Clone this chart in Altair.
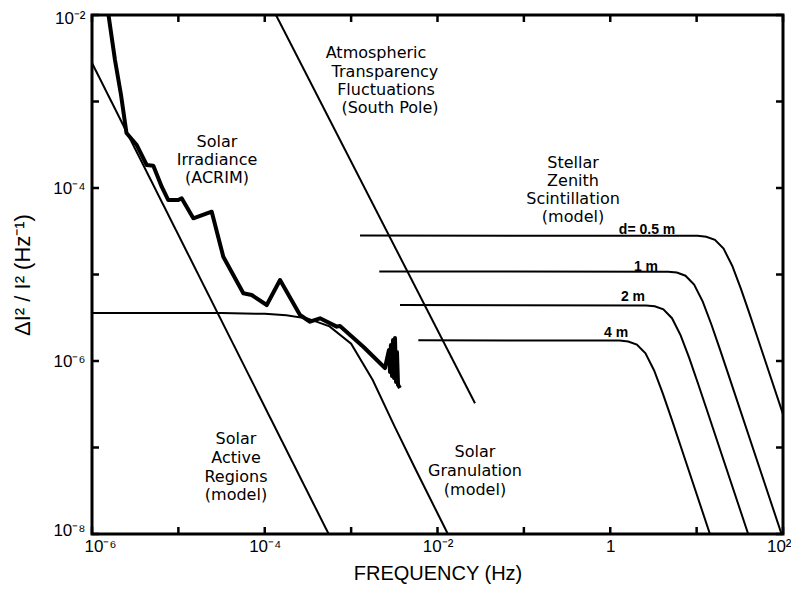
import altair as alt
import pandas as pd

# ---------------- data (log10 of frequency in Hz, log10 of ΔI²/I² in Hz^-1)
acrim_logf = [-5.809, -5.734, -5.664, -5.601, -5.482, -5.444, -5.367, -5.290, -5.193, -5.117,
              -5.001, -4.962, -4.827, -4.614, -4.480, -4.248, -4.151, -3.977, -3.823, -3.592,
              -3.476, -3.360, -3.167, -3.129, -2.859, -2.608, -2.562, -2.550, -2.539, -2.527,
              -2.515, -2.504, -2.492, -2.480, -2.469, -2.457, -2.434]
acrim_logp = [-2.000, -2.520, -2.925, -3.364, -3.503, -3.580, -3.734, -3.742, -3.985, -4.139,
              -4.139, -4.119, -4.350, -4.274, -4.794, -5.217, -5.237, -5.353, -5.064, -5.468,
              -5.546, -5.506, -5.603, -5.595, -5.835, -6.081, -5.873, -6.127, -5.815, -6.173,
              -5.757, -6.196, -5.734, -6.243, -5.896, -6.277, -6.312]

active_logf = [-6.0, -3.26]
active_logp = [-2.555, -8.0]

atmos_logf = [-3.870, -1.566]
atmos_logp = [-2.0, -6.489]

gran_logf = [-6.0, -4.5, -4.0, -3.75, -3.5, -3.25, -3.0, -2.75, -2.5, -2.25, -2.0, -1.88]
gran_logp = [-5.445, -5.445, -5.455, -5.47, -5.51, -5.60, -5.80, -6.22, -6.75, -7.26, -7.76, -8.0]

scint_05_logf = [-2.897, 1.012, 1.112, 1.212, 1.312, 1.412, 1.512, 1.612, 1.712, 2.0]
scint_05_logp = [-4.55, -4.553, -4.563, -4.599, -4.701, -4.899, -5.163, -5.453, -5.751, -6.615]
scint_1_logf = [-2.674, 0.671, 0.771, 0.871, 0.971, 1.071, 1.171, 1.271, 1.371, 1.983]
scint_1_logp = [-4.965, -4.968, -4.978, -5.014, -5.116, -5.314, -5.578, -5.868, -6.166, -8.0]
scint_2_logf = [-2.434, 0.415, 0.515, 0.615, 0.715, 0.815, 0.915, 1.015, 1.115, 1.597]
scint_2_logp = [-5.354, -5.357, -5.367, -5.403, -5.505, -5.703, -5.967, -6.257, -6.555, -8.0]
scint_4_logf = [-2.222, 0.108, 0.208, 0.308, 0.408, 0.508, 0.608, 0.708, 0.808, 1.154]
scint_4_logp = [-5.761, -5.764, -5.774, -5.81, -5.912, -6.11, -6.374, -6.664, -6.962, -8.0]

x_decades = [-6, -5, -4, -3, -2, -1, 0, 1, 2]
y_decades = [-8, -7, -6, -5, -4, -3, -2]
x_tick_exps = [-6, -4, -2, 0, 2]
x_tick_labels = ["10⁻⁶", "10⁻⁴", "10⁻²", "1", "10²"]
y_tick_exps = [-8, -6, -4, -2]
y_tick_labels = ["10⁻⁸", "10⁻⁶", "10⁻⁴", "10⁻²"]

# annotation text lines and their anchor (log10 f, log10 P)
annot_text = ["Atmospheric", "Transparency", "Fluctuations", "(South Pole)",
              "Solar", "Irradiance", "(ACRIM)",
              "Stellar", "Zenith", "Scintillation", "(model)",
              "Solar", "Active", "Regions", "(model)",
              "Solar", "Granulation", "(model)"]
annot_logf = [-2.712, -2.608, -2.596, -2.550,
              -4.553, -4.553, -4.553,
              -0.431, -0.431, -0.431, -0.431,
              -4.333, -4.333, -4.333, -4.333,
              -1.566, -1.566, -1.566]
annot_logp = [-2.439, -2.659, -2.867, -3.075,
              -3.468, -3.676, -3.884,
              -3.711, -3.919, -4.127, -4.335,
              -6.902, -7.121, -7.341, -7.549,
              -7.052, -7.272, -7.491]

d_text = ["d= 0.5 m", "1 m", "2 m", "4 m"]
d_logf = [0.426, 0.414, 0.263, 0.067]
d_logp = [-4.486, -4.913, -5.260, -5.676]

# ---------------- tables
def series(name, lf, lp):
    return pd.DataFrame({"series": name, "order": range(len(lf)),
                         "f": [10.0 ** v for v in lf], "P": [10.0 ** v for v in lp]})

thin = pd.concat([
    series("active", active_logf, active_logp),
    series("atmos", atmos_logf, atmos_logp),
    series("gran", gran_logf, gran_logp),
    series("d05", scint_05_logf, scint_05_logp),
    series("d1", scint_1_logf, scint_1_logp),
    series("d2", scint_2_logf, scint_2_logp),
    series("d4", scint_4_logf, scint_4_logp),
], ignore_index=True)
acrim = series("acrim", acrim_logf, acrim_logp)

annots = pd.DataFrame({"label": annot_text, "f": [10.0 ** v for v in annot_logf],
                       "P": [10.0 ** v for v in annot_logp]})
dlabels = pd.DataFrame({"label": d_text, "f": [10.0 ** v for v in d_logf],
                        "P": [10.0 ** v for v in d_logp]})
xticks = pd.DataFrame({"f": [10.0 ** v for v in x_decades]})
yticks = pd.DataFrame({"P": [10.0 ** v for v in y_decades]})


def label_expr(exps, labels):
    e = "round(log(datum.value)/LN10)"
    s = "''"
    for k, lab in reversed(list(zip(exps, labels))):
        s = f"({e} == {k}) ? '{lab}' : {s}"
    return s


W, H = 691, 519
TICK = 7
xs = alt.Scale(type="log", domain=[1e-6, 1e2], nice=False)
ys = alt.Scale(type="log", domain=[1e-8, 1e-2], nice=False)

xaxis = alt.Axis(values=[10.0 ** v for v in x_decades], labelExpr=label_expr(x_tick_exps, x_tick_labels),
                 domain=False, ticks=False, grid=False, labelFont="Liberation Sans", labelFontSize=17,
                 labelColor="black", labelPadding=4, labelFlush=True, labelFlushOffset=8,
                 labelOverlap=False,
                 title="FREQUENCY (Hz)", titleFont="Liberation Sans", titleFontSize=20,
                 titleFontWeight="normal", titleColor="black", titlePadding=9)
yaxis = alt.Axis(values=[10.0 ** v for v in y_decades], labelExpr=label_expr(y_tick_exps, y_tick_labels),
                 domain=False, ticks=False, grid=False, labelFont="Liberation Sans", labelFontSize=17,
                 labelColor="black", labelPadding=7, labelFlush=True, labelFlushOffset=5,
                 labelOverlap=False,
                 title="ΔI² / I²  (Hz⁻¹)", titleFont="Liberation Sans", titleFontSize=22,
                 titleFontWeight="normal", titleColor="black", titlePadding=18)

X = alt.X("f:Q", scale=xs, axis=xaxis)
Y = alt.Y("P:Q", scale=ys, axis=yaxis)

thin_layer = alt.Chart(thin).mark_line(color="black", strokeWidth=2, clip=True).encode(
    x=X, y=Y, detail="series:N", order="order:Q")
acrim_layer = alt.Chart(acrim).mark_line(color="black", strokeWidth=4, strokeJoin="round", clip=True).encode(
    x=X, y=Y, order="order:Q")
annot_layer = alt.Chart(annots).mark_text(font="DejaVu Sans", fontSize=16, color="black",
                                          align="center", baseline="middle").encode(
    x=X, y=Y, text="label:N")
d_layer = alt.Chart(dlabels).mark_text(font="Liberation Sans", fontSize=14, fontWeight="bold",
                                       color="black", align="center", baseline="middle").encode(
    x=X, y=Y, text="label:N")
tick_style = dict(color="black", strokeWidth=2.5)
xt_bottom = alt.Chart(xticks).mark_rule(**tick_style).encode(
    x=X, y=alt.value(H), y2=alt.value(H - TICK))
xt_top = alt.Chart(xticks).mark_rule(**tick_style).encode(
    x=X, y=alt.value(0), y2=alt.value(TICK))
yt_left = alt.Chart(yticks).mark_rule(**tick_style).encode(
    y=Y, x=alt.value(0), x2=alt.value(TICK))
yt_right = alt.Chart(yticks).mark_rule(**tick_style).encode(
    y=Y, x=alt.value(W), x2=alt.value(W - TICK))

chart = alt.layer(thin_layer, acrim_layer, annot_layer, d_layer,
                  xt_bottom, xt_top, yt_left, yt_right).properties(
    width=W, height=H,
    padding={"left": 84, "top": 7, "right": 8, "bottom": 51},
    autosize=alt.AutoSizeParams(type="none"),
    background="white",
).configure_view(stroke="black", strokeWidth=3)

chart.save("out.html", embed_options={"renderer": "svg", "actions": False})
